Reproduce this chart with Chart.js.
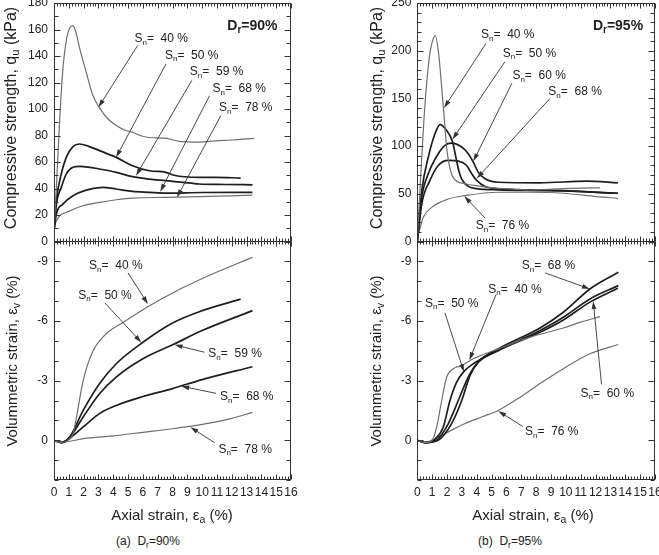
<!DOCTYPE html>
<html>
<head>
<meta charset="utf-8">
<script src="https://cdn.jsdelivr.net/npm/chart.js@4.4.1/dist/chart.umd.min.js"></script>
<style>
  body { margin: 0; background: #fff; }
  #page { position: relative; width: 659px; height: 555px; overflow: hidden; font-family: 'Liberation Sans', Arial, sans-serif; color: #222; }
  canvas { position: absolute; }
  .ttl { position: absolute; font-size: 15px; white-space: nowrap; line-height: 1; }
  .big { font-size: 16px; }
  .rot { transform: translate(-50%, -50%) rotate(-90deg); }
  .ctr { transform: translate(-50%, -50%); }
  .cap { font-size: 12px; }
  sub { font-size: 70%; vertical-align: -0.3em; line-height: 0; }
</style>
</head>
<body>
<div id="page">
  <canvas id="q90" width="310" height="250" style="left:0;top:0"></canvas>
  <canvas id="e90" width="310" height="274" style="left:0;top:236px"></canvas>
  <canvas id="q95" width="329" height="250" style="left:330px;top:0"></canvas>
  <canvas id="e95" width="329" height="274" style="left:330px;top:236px"></canvas>

  <div class="ttl big rot" style="left:11px;top:118px">Compressive strength, q<sub>u</sub> (kPa)</div>
  <div class="ttl rot" style="left:11px;top:361px">Volummetric strain, ε<sub>v</sub> (%)</div>
  <div class="ttl big rot" style="left:377px;top:118px">Compressive strength, q<sub>u</sub> (kPa)</div>
  <div class="ttl rot" style="left:375px;top:361px">Volummetric strain, ε<sub>v</sub> (%)</div>

  <div class="ttl ctr" style="left:172px;top:514px">Axial strain, ε<sub>a</sub> (%)</div>
  <div class="ttl ctr" style="left:533px;top:514px">Axial strain, ε<sub>a</sub> (%)</div>
  <div class="ttl ctr cap" style="left:148px;top:541px">(a)&nbsp; D<sub>r</sub>=90%</div>
  <div class="ttl ctr cap" style="left:510px;top:541px">(b)&nbsp; D<sub>r</sub>=95%</div>
</div>
<script>
const FONT = "'Liberation Sans', Arial, sans-serif";
const DARK = '#1e1e1e';
const GRAY = '#6f6f6f';

const strainTicks = [0, 1, 2, 3, 4, 5, 6, 7, 8, 9, 10, 11, 12, 13, 14, 15, 16];
const qu90Ticks = [0, 20, 40, 60, 80, 100, 120, 140, 160, 180];
const qu95Ticks = [0, 50, 100, 150, 200, 250];
const evTicks = [-9, -6, -3, 0];

// (a) Dr = 90 %  -- [axial strain %, value]
const sn90 = ['40 %', '50 %', '59 %', '68 %', '78 %'];
const qu90_40 = [[0,8],[0.2,50],[0.4,95],[0.6,130],[0.85,153],[1.05,161],[1.28,163],[1.5,157],[1.73,146],[2.17,128],[2.6,111],[3.07,101],[3.6,93],[4.2,87.5],[4.8,84],[5.3,82.5],[5.8,80],[6.4,78.5],[7.5,78],[8.45,75.6],[9.8,75],[10.9,76],[12,76.6],[13.5,77.8]];
const qu90_50 = [[0,8],[0.16,31],[0.49,51],[0.83,63.5],[1.28,71.6],[1.73,73.6],[2.3,72],[3.07,68.6],[4.2,63.5],[5.3,57.2],[6.43,53.4],[7.55,52.2],[8.1,50],[9.8,48.4],[10.9,48.4],[12.6,47.9]];
const qu90_59 = [[0,8],[0.16,28],[0.49,40.8],[0.83,51],[1.28,56],[1.73,56.7],[2.3,56.2],[3.07,54.7],[4.2,52.2],[5.3,48.9],[6.43,47.1],[7.55,45.9],[8.7,44.6],[9.8,43.4],[11.5,43],[13.4,42.8]];
const qu90_68 = [[0,8],[0.16,20.7],[0.6,28.2],[1.28,34.5],[2.17,38.8],[3.3,40.8],[4.2,39.6],[5.3,37.8],[6.43,37.1],[7.55,36.5],[10,37],[13.4,37.1]];
const qu90_78 = [[0,12],[0.38,19.4],[0.83,21.9],[1.95,27],[3.07,29.5],[4.2,31.5],[5.3,32.8],[7.55,33.3],[9.8,33.8],[12,34.5],[13.4,35]];

const ev90_40 = [[0,0],[0.5,0.12],[0.9,0.02],[1.3,-0.35],[1.52,-1.17],[1.97,-3.0],[2.64,-4.5],[3.54,-5.37],[4.66,-5.93],[6.45,-6.77],[8.1,-7.45],[10.5,-8.3],[13.4,-9.2]];
const ev90_50 = [[0,0],[0.5,0.12],[1.07,-0.17],[1.97,-1.5],[3.07,-2.84],[4.2,-3.85],[6.0,-4.93],[8.0,-5.9],[10.0,-6.52],[12.6,-7.1]];
const ev90_59 = [[0,0],[0.5,0.12],[1.07,-0.15],[1.97,-1.17],[3.07,-2.34],[4.2,-3.18],[6.0,-4.1],[8.0,-4.8],[10.0,-5.52],[13.4,-6.52]];
const ev90_68 = [[0,0],[0.5,0.12],[1.07,-0.1],[1.97,-0.67],[3.07,-1.34],[4.2,-1.75],[6.0,-2.2],[8.0,-2.6],[10.0,-3.05],[13.4,-3.7]];
const ev90_78 = [[0,0],[0.5,0.1],[1.07,0.05],[2.0,-0.08],[4.0,-0.22],[6.0,-0.4],[8.0,-0.58],[10.0,-0.8],[12.0,-1.1],[13.4,-1.4]];

// (b) Dr = 95 %
const sn95 = ['40 %', '50 %', '60 %', '68 %', '76 %'];
const qu95_40 = [[0,0],[0.2,60],[0.5,140],[0.8,192],[1.0,209],[1.21,215.6],[1.45,195],[1.65,160],[1.82,128],[1.98,98],[2.15,80],[2.42,67],[3.2,60.5],[4.2,58],[5.3,56],[6.5,55],[7.6,54],[8.5,54.5],[9.8,55.5],[11,56],[12.3,56.2]];
const qu95_50 = [[0,0],[0.3,53],[0.74,88.5],[1.19,113],[1.53,122.6],[1.95,117],[2.36,105],[2.6,88],[2.8,74],[3.0,65],[3.4,58],[4.0,55.5],[5.45,54.1],[8.26,53.4],[9.83,53],[11.5,52],[13.5,50.6]];
const qu95_60 = [[0,0],[0.3,46.3],[0.74,71],[1.41,92],[1.86,100.8],[2.31,103.2],[2.99,99],[3.43,92],[3.77,83.2],[4.1,72.7],[4.56,65.7],[5.45,62.1],[8.26,61.5],[11.4,63.2],[13.5,61.5]];
const qu95_68 = [[0,0],[0.3,39.4],[0.85,64],[1.41,79.7],[2.09,85],[2.76,84.2],[3.32,79.7],[3.66,71],[4.0,64],[4.56,57.6],[5.45,55.2],[7.58,54.1],[9.83,53.4],[11.5,52],[13.5,50.6]];
const qu95_76 = [[0,5],[0.07,7.7],[0.4,25.3],[0.97,35.8],[2.09,44.6],[3.21,48.1],[5.45,51.6],[7.58,51.6],[9.83,50.6],[12.07,47.1],[13.5,45.3]];

const ev95_40 = [[0,0],[0.52,0.12],[1.0,0],[1.19,-0.33],[1.4,-1.0],[1.64,-2.0],[1.98,-3.18],[2.42,-3.6],[2.99,-3.76],[3.77,-4.1],[5.45,-4.6],[7.58,-5.18],[9.83,-5.65],[10.95,-5.93],[12.3,-6.22]];
const ev95_50 = [[0,0],[0.52,0.12],[1.2,-0.05],[1.75,-0.67],[2.2,-2.0],[2.65,-2.92],[3.1,-3.43],[3.77,-3.85],[5.45,-4.52],[8.26,-5.43],[9.83,-6.05],[11.62,-6.95],[13.5,-7.65]];
const ev95_60 = [[0,0],[0.52,0.12],[1.3,0],[2.09,-0.84],[2.76,-2.0],[3.43,-3.18],[4.1,-3.93],[5.45,-4.52],[8.26,-5.52],[9.83,-6.19],[11.62,-7.11],[13.53,-7.78]];
const ev95_68 = [[0,0],[0.52,0.12],[1.4,0],[2.31,-0.84],[2.99,-2.0],[3.55,-3.26],[4.1,-3.93],[5.45,-4.6],[8.26,-5.65],[9.83,-6.44],[11.62,-7.61],[13.53,-8.45]];
const ev95_76 = [[0,0],[0.52,0.12],[1.19,-0.08],[2.09,-0.42],[3.21,-0.84],[4.33,-1.17],[5.45,-1.5],[6.57,-2.0],[7.58,-2.5],[8.26,-2.85],[9.83,-3.6],[11.62,-4.35],[13.53,-4.82]];

function drawArrow(ctx, x1, y1, x2, y2) {
  const a = Math.atan2(y2 - y1, x2 - x1);
  const len = 8, half = 2.4;
  ctx.beginPath();
  ctx.moveTo(x1, y1);
  ctx.lineTo(x2 - Math.cos(a) * len * 0.8, y2 - Math.sin(a) * len * 0.8);
  ctx.stroke();
  ctx.beginPath();
  ctx.moveTo(x2, y2);
  ctx.lineTo(x2 - Math.cos(a) * len - Math.sin(a) * half, y2 - Math.sin(a) * len + Math.cos(a) * half);
  ctx.lineTo(x2 - Math.cos(a) * len + Math.sin(a) * half, y2 - Math.sin(a) * len - Math.cos(a) * half);
  ctx.closePath();
  ctx.fill();
}

// text with a subscript letter: main, sub, rest
function drawSubText(ctx, x, y, main, sub, rest, size, bold) {
  const w = bold ? 'bold ' : '';
  ctx.textAlign = 'left';
  ctx.textBaseline = 'middle';
  ctx.font = w + size + 'px ' + FONT;
  ctx.fillText(main, x, y);
  let cx = x + ctx.measureText(main).width;
  ctx.font = w + Math.round(size * 0.68) + 'px ' + FONT;
  ctx.fillText(sub, cx, y + size * 0.3);
  cx += ctx.measureText(sub).width;
  ctx.font = w + size + 'px ' + FONT;
  ctx.fillText(rest, cx, y);
}

function framePlugin(spec) {
  return {
    id: 'frame',
    afterDatasetsDraw(chart) {
      const { ctx, chartArea: a, scales: { x, y } } = chart;
      ctx.save();
      ctx.strokeStyle = '#333';
      ctx.fillStyle = '#333';
      ctx.lineWidth = 1;
      const L = Math.floor(a.left) + 0.5, R = Math.ceil(a.right) - 0.5;
      const T = Math.floor(a.top) + 0.5, B = Math.ceil(a.bottom) - 0.5;
      ctx.strokeRect(L, T, R - L, B - T);

      ctx.beginPath();
      const nx = Math.round((x.max - x.min) / 0.2);
      for (let i = 0; i <= nx; i++) {
        const px = Math.round(x.getPixelForValue(x.min + i * 0.2)) + 0.5;
        const len = i % 5 === 0 ? 5 : 3;
        ctx.moveTo(px, B); ctx.lineTo(px, B - len);
        ctx.moveTo(px, T); ctx.lineTo(px, T + len);
      }
      const ny = Math.round((spec.yMax - spec.yMin) / spec.yMinor);
      for (let i = 0; i <= ny; i++) {
        const v = spec.yMin + i * spec.yMinor;
        const py = Math.round(y.getPixelForValue(v)) + 0.5;
        const len = spec.yTicks.includes(v) ? 6 : 4;
        ctx.moveTo(L, py); ctx.lineTo(L + len, py);
        ctx.moveTo(R, py); ctx.lineTo(R - len, py);
      }
      ctx.stroke();

      ctx.lineWidth = 0.9;
      spec.callouts.forEach(c => {
        drawArrow(ctx, x.getPixelForValue(c.from[0]), y.getPixelForValue(c.from[1]),
          x.getPixelForValue(c.to[0]), y.getPixelForValue(c.to[1]));
      });
      ctx.fillStyle = '#222';
      spec.callouts.forEach(c => {
        drawSubText(ctx, x.getPixelForValue(c.at[0]), y.getPixelForValue(c.at[1]), 'S', 'n', '=  ' + c.sn, 12, false);
      });
      if (spec.tag) {
        drawSubText(ctx, x.getPixelForValue(spec.tag.at[0]), y.getPixelForValue(spec.tag.at[1]), 'D', 'r', spec.tag.text, 14, true);
      }
      ctx.restore();
    }
  };
}

function panel(id, spec) {
  const datasets = spec.curves.map(c => ({
    data: c.pts.map(p => ({ x: p[0], y: p[1] })),
    borderColor: c.color,
    borderWidth: c.color === GRAY ? 1.2 : 1.7,
    pointRadius: 0,
    fill: false,
    cubicInterpolationMode: 'monotone',
  }));
  return new Chart(document.getElementById(id), {
    type: 'line',
    data: { datasets },
    options: {
      responsive: false,
      animation: false,
      events: [],
      layout: { padding: spec.pad },
      plugins: { legend: { display: false }, tooltip: { enabled: false } },
      scales: {
        x: {
          type: 'linear', min: 0, max: 16,
          display: spec.showX,
          grid: { display: false, drawTicks: false },
          border: { display: false },
          ticks: { autoSkip: false, maxRotation: 0, padding: 5, color: '#222', font: { family: FONT, size: 12 } },
          afterBuildTicks: s => { s.ticks = strainTicks.map(v => ({ value: v })); },
          afterFit: s => { if (spec.showX) s.height = 20; s.paddingLeft = 0; s.paddingRight = 0; },
        },
        y: {
          type: 'linear', min: spec.yMin, max: spec.yMax, reverse: !!spec.reverse,
          grid: { display: false, drawTicks: false },
          border: { display: false },
          ticks: { padding: 6, color: '#222', font: { family: FONT, size: 12 } },
          afterBuildTicks: s => { s.ticks = spec.yTicks.map(v => ({ value: v })); },
          afterFit: s => { s.width = spec.yWidth; s.paddingTop = 0; s.paddingBottom = 0; },
        },
      },
    },
    plugins: [framePlugin(spec)],
  });
}

panel('q90', {
  curves: [
    { pts: qu90_40, color: GRAY }, { pts: qu90_50, color: DARK }, { pts: qu90_59, color: DARK },
    { pts: qu90_68, color: DARK }, { pts: qu90_78, color: GRAY },
  ],
  yMin: 0, yMax: 180, yMinor: 10, yTicks: qu90Ticks, yWidth: 54, showX: false,
  pad: { left: 0, right: 19, top: 3, bottom: 8.5 },
  callouts: [
    { sn: sn90[0], at: [5.43, 153], from: [5.65, 148], to: [3.0, 101.3] },
    { sn: sn90[1], at: [7.49, 140.4], from: [7.56, 134], to: [4.19, 63.5] },
    { sn: sn90[2], at: [9.17, 127.8], from: [9.3, 121.5], to: [5.54, 49.7] },
    { sn: sn90[3], at: [10.7, 115.2], from: [10.5, 110], to: [7.17, 37.6] },
    { sn: sn90[4], at: [11.14, 100.8], from: [11.26, 95], to: [8.3, 33.3] },
  ],
  tag: { at: [11.7, 162.4], text: '=90%' },
});

panel('e90', {
  curves: [
    { pts: ev90_40, color: GRAY }, { pts: ev90_50, color: DARK }, { pts: ev90_59, color: DARK },
    { pts: ev90_68, color: DARK }, { pts: ev90_78, color: GRAY },
  ],
  yMin: -10, yMax: 2, reverse: true, yMinor: 1, yTicks: evTicks, yWidth: 54, showX: true,
  pad: { left: 0, right: 19, top: 5.5, bottom: 10 },
  callouts: [
    { sn: sn90[0], at: [2.37, -8.78], from: [5.0, -8.42], to: [6.34, -6.85] },
    { sn: sn90[1], at: [1.64, -7.28], from: [3.43, -6.91], to: [5.9, -4.92] },
    { sn: sn90[2], at: [10.42, -4.35], from: [10.15, -4.43], to: [8.14, -4.8] },
    { sn: sn90[3], at: [11.21, -2.19], from: [10.94, -2.36], to: [8.59, -2.72] },
    { sn: sn90[4], at: [11.1, 0.45], from: [10.83, 0.12], to: [9.21, -0.66] },
  ],
});

panel('q95', {
  curves: [
    { pts: qu95_40, color: GRAY }, { pts: qu95_50, color: DARK }, { pts: qu95_60, color: DARK },
    { pts: qu95_68, color: DARK }, { pts: qu95_76, color: GRAY },
  ],
  yMin: 0, yMax: 250, yMinor: 10, yTicks: qu95Ticks, yWidth: 87.3, showX: false,
  pad: { left: 0, right: 4, top: 3, bottom: 8.5 },
  callouts: [
    { sn: sn95[0], at: [4.29, 216.6], from: [4.63, 207.8], to: [1.8, 140] },
    { sn: sn95[1], at: [5.75, 197.3], from: [5.9, 188.5], to: [2.36, 107] },
    { sn: sn95[2], at: [6.4, 173.4], from: [6.36, 165.7], to: [3.77, 84] },
    { sn: sn95[3], at: [8.82, 157], from: [8.93, 149.9], to: [4.0, 66] },
    { sn: sn95[4], at: [3.93, 16.5], from: [4.56, 24.6], to: [3.16, 47.5] },
  ],
  tag: { at: [11.82, 226], text: '=95%' },
});

panel('e95', {
  curves: [
    { pts: ev95_40, color: GRAY }, { pts: ev95_50, color: DARK }, { pts: ev95_60, color: DARK },
    { pts: ev95_68, color: DARK }, { pts: ev95_76, color: GRAY },
  ],
  yMin: -10, yMax: 2, reverse: true, yMinor: 1, yTicks: evTicks, yWidth: 87.3, showX: true,
  pad: { left: 0, right: 4, top: 5.5, bottom: 10 },
  callouts: [
    { sn: sn95[3], at: [7.03, -8.78], from: [8.6, -8.42], to: [11.62, -7.61] },
    { sn: sn95[0], at: [4.78, -7.58], from: [5.3, -7.33], to: [3.5, -4.03] },
    { sn: sn95[1], at: [0.52, -6.89], from: [1.86, -6.41], to: [3.14, -3.43] },
    { sn: sn95[2], at: [10.99, -2.36], from: [12.4, -2.81], to: [11.84, -7.0] },
    { sn: sn95[4], at: [7.25, -0.42], from: [7.1, -0.69], to: [5.45, -1.47] },
  ],
});
</script>
</body>
</html>
